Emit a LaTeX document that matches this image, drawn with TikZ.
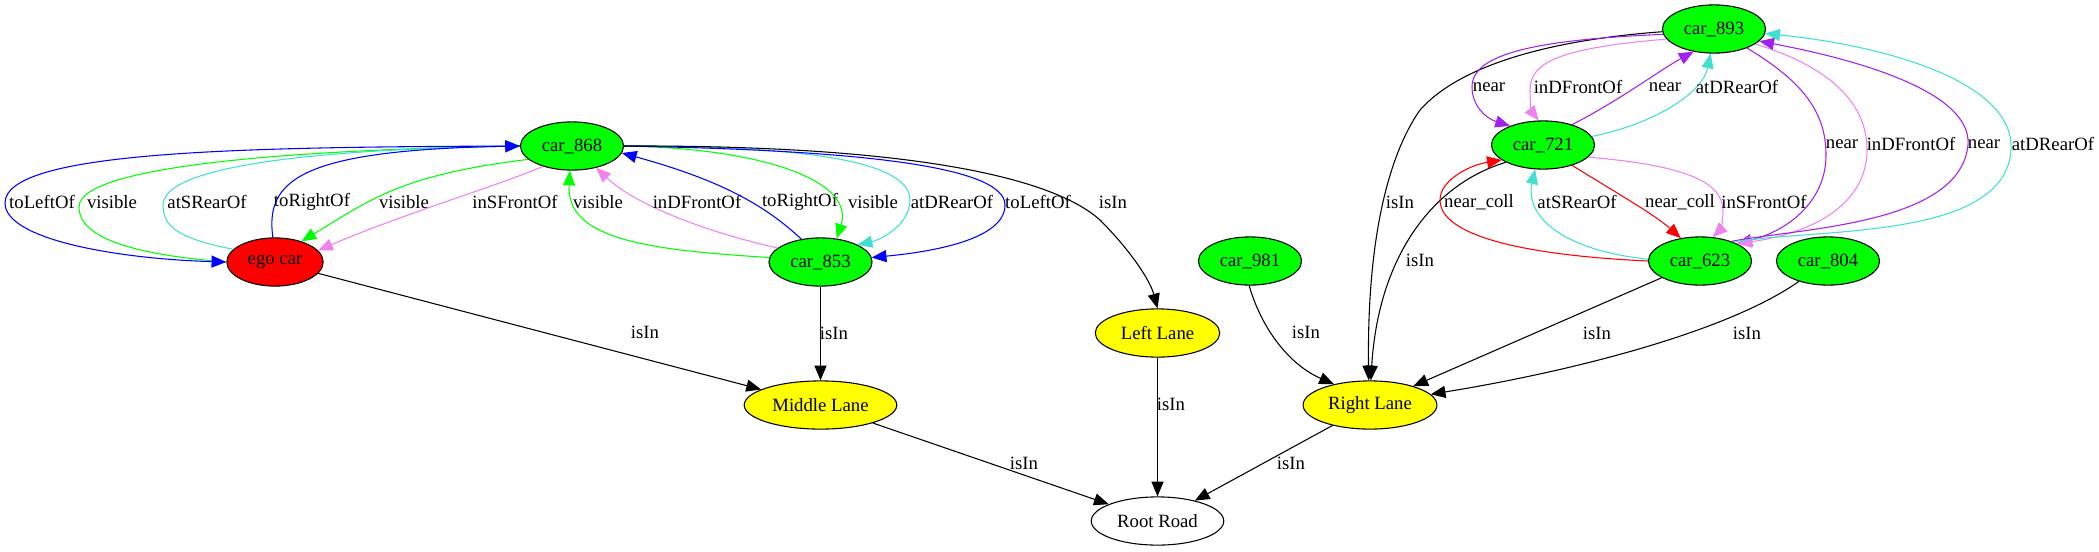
\documentclass[tikz,border=0pt]{standalone}
\usepackage{fontspec}
\setmainfont{Liberation Serif}
\usetikzlibrary{arrows.meta,shapes.geometric}
\definecolor{azul}{HTML}{0000FF}
\definecolor{verde}{HTML}{00FF00}
\definecolor{turquesa}{HTML}{40E0D0}
\definecolor{violeta}{HTML}{EE82EE}
\definecolor{roxo}{HTML}{A020F0}
\definecolor{vermelho}{HTML}{FF0000}
\definecolor{amarelo}{HTML}{FFFF00}

\begin{document}
\begin{tikzpicture}[x=0.747pt, y=-0.747pt, >={Triangle[length=11pt,width=9pt]},
  font=\fontsize{14}{16}\selectfont,
  car/.style={ellipse, draw=black, line width=0.8pt, fill=verde, minimum width=77pt, minimum height=36pt, inner sep=0pt},
  egocar/.style={car, fill=vermelho, minimum width=72pt},
  lane/.style={car, fill=amarelo},
  rel/.style={->, line width=0.8pt},
  lbl/.style={inner sep=0pt, text=black}]
  \useasboundingbox (0,0) rectangle (2099,551);
  \node[car] (c868) at (572,146) {car\_868};
  \node[egocar] (ego) at (275,262) {ego car};
  \node[car] (c853) at (820.5,262) {car\_853};
  \node[lane, minimum width=114pt] (ml) at (820.5,405) {Middle Lane};
  \node[lane, minimum width=93pt] (ll) at (1157.5,333) {Left Lane};
  \node[car, fill=white, minimum width=99pt] (root) at (1157.5,521) {Root Road};
  \node[lane, minimum width=100pt] (rl) at (1370,405) {Right Lane};
  \node[car] (c981) at (1250,261) {car\_981};
  \node[car] (c893) at (1714,29) {car\_893};
  \node[car] (c721) at (1543,145) {car\_721};
  \node[car] (c623) at (1700,261) {car\_623};
  \node[car] (c804) at (1828,261) {car\_804};

  \draw[rel, verde] (ego.west) .. controls (140,255) and (79,240) .. (79,207) .. controls (79,165) and (300,150) .. (c868.west) node[lbl] at (112,202) {visible};
  \draw[rel, turquesa] (ego.163) .. controls (175,238) and (163,225) .. (163,205) .. controls (163,168) and (300,150) .. (c868.west) node[lbl] at (207,202) {atSRearOf};
  \draw[rel, azul] (c868.west) .. controls (250,147) and (5,150) .. (5,203) .. controls (5,240) and (120,259) .. (ego.west) node[lbl] at (42,202) {toLeftOf};
  \draw[rel, azul] (ego.95) .. controls (265,180) and (300,150) .. (c868.west) node[lbl] at (312,202) {toRightOf};
  \draw[rel, verde] (c868.197) .. controls (400,175) and (370,200) .. (ego.38) node[lbl] at (404,202) {visible};
  \draw[rel, violeta] (c868.215) .. controls (500,185) and (400,215) .. (ego.15) node[lbl] at (515,202) {inSFrontOf};

  \draw[rel, verde] (c853.175) .. controls (650,250) and (566,240) .. (c868.265) node[lbl] at (598,202) {visible};
  \draw[rel, violeta] (c853.162) .. controls (690,228) and (630,200) .. (c868.318) node[lbl] at (697,202) {inDFrontOf};
  \draw[rel, azul] (c853.130) .. controls (765,205) and (720,180) .. (c868.352) node[lbl] at (800,202) {toRightOf};
  \draw[rel, verde] (c868.east) .. controls (760,148) and (855,180) .. (c853.55) node[lbl] at (873,202) {visible};
  \draw[rel, turquesa] (c868.east) .. controls (800,146) and (910,160) .. (910,200) .. controls (910,225) and (880,240) .. (c853.25) node[lbl] at (952,202) {atDRearOf};
  \draw[rel, azul] (c868.east) .. controls (850,150) and (1005,165) .. (1005,205) .. controls (1005,240) and (930,252) .. (c853.5) node[lbl] at (1038,202) {toLeftOf};
  \draw[rel] (c868.east) .. controls (900,145) and (1050,175) .. (1100,220) .. controls (1130,250) and (1150,280) .. (ll.north) node[lbl] at (1113,202) {isIn};

  \draw[rel] (ego) -- (ml) node[lbl] at (645,332) {isIn};
  \draw[rel] (c853) -- (ml) node[lbl] at (834,333) {isIn};
  \draw[rel] (ml) -- (root) node[lbl] at (1024,463) {isIn};
  \draw[rel] (ll) -- (root) node[lbl] at (1171,404) {isIn};
  \draw[rel] (rl) -- (root) node[lbl] at (1291,463) {isIn};

  \draw[rel] (c981.268) .. controls (1262,330) and (1290,365) .. (rl.150) node[lbl] at (1306,332) {isIn};
  \draw[rel] (c893.183) .. controls (1550,40) and (1460,65) .. (1420,110) .. controls (1385,160) and (1367,250) .. (rl.93) node[lbl] at (1400,202) {isIn};
  \draw[rel] (c721.205) .. controls (1430,185) and (1378,260) .. (rl.88) node[lbl] at (1420,260) {isIn};
  \draw[rel] (c623) -- (rl) node[lbl] at (1597,333) {isIn};
  \draw[rel] (c804.215) .. controls (1730,330) and (1580,370) .. (rl.10) node[lbl] at (1747,333) {isIn};

  \draw[rel, roxo] (c893.186) .. controls (1530,40) and (1472,55) .. (1472,87) .. controls (1472,105) and (1485,118) .. (c721.150) node[lbl] at (1489,87) {near};
  \draw[rel, violeta] (c893.192) .. controls (1560,48) and (1530,62) .. (1530,90) .. controls (1530,105) and (1532,112) .. (c721.100) node[lbl] at (1578,87) {inDFrontOf};
  \draw[rel, roxo] (c721.35) .. controls (1620,100) and (1660,70) .. (c893.228) node[lbl] at (1665,87) {near};
  \draw[rel, turquesa] (c721.10) .. controls (1650,125) and (1702,95) .. (c893.262) node[lbl] at (1737,87) {atDRearOf};
  \draw[rel, roxo] (c893.330) .. controls (1800,80) and (1826,110) .. (1826,155) .. controls (1826,200) and (1790,230) .. (c623.25) node[lbl] at (1842,144) {near};
  \draw[rel, violeta] (c893.340) .. controls (1840,70) and (1867,110) .. (1867,150) .. controls (1867,200) and (1820,232) .. (c623.25) node[lbl] at (1911,144) {inDFrontOf};
  \draw[rel, roxo] (c623.32) .. controls (1800,228) and (1960,225) .. (1968,145) .. controls (1972,95) and (1870,62) .. (c893.345) node[lbl] at (1984,144) {near};
  \draw[rel, turquesa] (c623.30) .. controls (1820,228) and (2005,240) .. (2011,150) .. controls (2015,80) and (1880,45) .. (c893.355) node[lbl] at (2053,144) {atDRearOf};

  \draw[rel, vermelho] (c721.325) .. controls (1620,195) and (1655,215) .. (c623.130) node[lbl] at (1680,202) {near\_coll};
  \draw[rel, violeta] (c721.345) .. controls (1680,165) and (1722,180) .. (1723,210) .. controls (1723,222) and (1720,230) .. (c623.62) node[lbl] at (1764,202) {inSFrontOf};
  \draw[rel, vermelho] (c623.180) .. controls (1520,255) and (1440,235) .. (1440,200) .. controls (1440,180) and (1470,165) .. (c721.200) node[lbl] at (1479,202) {near\_coll};
  \draw[rel, turquesa] (c623.178) .. controls (1560,250) and (1525,215) .. (c721.252) node[lbl] at (1577,202) {atSRearOf};
\end{tikzpicture}
\end{document}
